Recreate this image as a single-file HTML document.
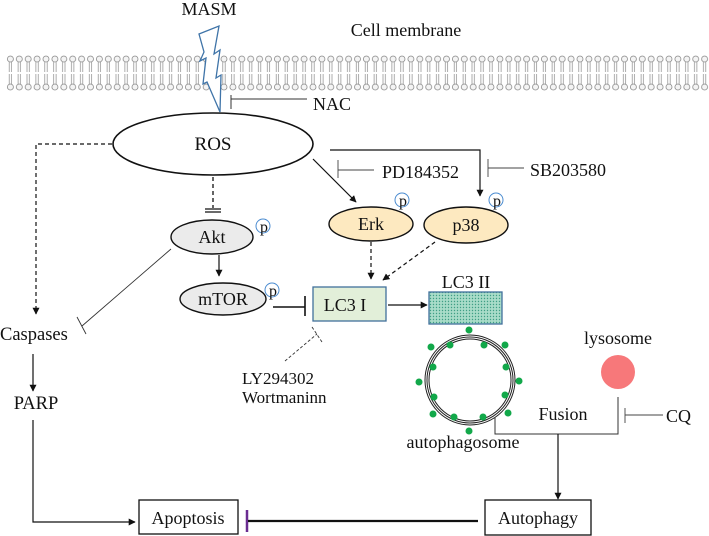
<!DOCTYPE html>
<html><head><meta charset="utf-8"><style>
html,body{margin:0;padding:0;background:#fff}
svg{display:block}
text{font-family:"Liberation Serif",serif;fill:#111}
</style></head><body>
<svg width="709" height="536" viewBox="0 0 709 536" xmlns="http://www.w3.org/2000/svg">
<defs>
<pattern id="mem" x="6" y="0" width="8.9" height="100" patternUnits="userSpaceOnUse">
<circle cx="4.4" cy="59" r="3" fill="#f4f4f4" stroke="#8a8a8a" stroke-width="0.8"/>
<circle cx="4.4" cy="87" r="3" fill="#f4f4f4" stroke="#8a8a8a" stroke-width="0.8"/>
<path d="M3.2 62V72M5.6 62V72M3.2 74V84M5.6 74V84" stroke="#8a8a8a" stroke-width="0.7"/>
</pattern>
<pattern id="dots" width="3" height="3" patternUnits="userSpaceOnUse">
<rect width="3" height="3" fill="#a9dcc9"/>
<circle cx="1.5" cy="1.5" r="0.7" fill="#3f9f85"/>
</pattern>
<marker id="ah" viewBox="0 0 10 10" refX="9" refY="5" markerWidth="7" markerHeight="7" orient="auto-start-reverse" markerUnits="userSpaceOnUse"><path d="M0 0L10 5L0 10z" fill="#111"/></marker>
</defs>

<rect x="6" y="52" width="703" height="40" fill="url(#mem)"/>
<text x="209" y="15" font-size="18" text-anchor="middle">MASM</text>
<text x="406" y="36" font-size="18" text-anchor="middle">Cell membrane</text>
<polygon points="199,34 219,26 214,54 220,50 216,78 221,75 220,112 207,82 203,84 206,58 200,61 204,52" fill="#fff" stroke="#3f74a8" stroke-width="1.3"/>

<path d="M231 95V109M231 99H307" stroke="#333" stroke-width="1"/>
<text x="313" y="110" font-size="18">NAC</text>

<ellipse cx="213" cy="144" rx="100" ry="31" fill="#fff" stroke="#111" stroke-width="1.6"/>
<text x="213" y="150" font-size="19" text-anchor="middle">ROS</text>

<path d="M112 144H36V314" fill="none" stroke="#111" stroke-width="1.2" stroke-dasharray="4,3" marker-end="url(#ah)"/>
<text x="0" y="340" font-size="18.5">Caspases</text>
<path d="M33 354V391" stroke="#111" stroke-width="1.2" marker-end="url(#ah)"/>
<text x="36" y="409" font-size="18.5" text-anchor="middle">PARP</text>
<path d="M33 420V522H135" fill="none" stroke="#111" stroke-width="1.2" marker-end="url(#ah)"/>
<rect x="139" y="500" width="99" height="34" fill="#fff" stroke="#111" stroke-width="1.3"/>
<text x="188" y="524" font-size="18" text-anchor="middle">Apoptosis</text>
<path d="M247 510V532" stroke="#6a2c91" stroke-width="2.5"/>
<path d="M248 521H478" stroke="#111" stroke-width="2.2"/>
<rect x="485" y="500" width="106" height="35" fill="#fff" stroke="#111" stroke-width="1.3"/>
<text x="538" y="524" font-size="18" text-anchor="middle">Autophagy</text>

<path d="M213 177V208" stroke="#111" stroke-width="1.3" stroke-dasharray="4,3"/>
<path d="M205 209H221M205 212H221" stroke="#111" stroke-width="1.2"/>
<ellipse cx="212" cy="237" rx="41" ry="17" fill="#ebebeb" stroke="#111" stroke-width="1.4"/>
<text x="212" y="243" font-size="18" text-anchor="middle">Akt</text>
<circle cx="263" cy="226" r="7" fill="#fff" stroke="#4a8bd0" stroke-width="1"/>
<text x="264" y="232" font-size="16" text-anchor="middle">p</text>
<path d="M171 249L82 326M77 317L86 334" stroke="#333" stroke-width="0.9" fill="none"/>
<path d="M219 255V276" stroke="#111" stroke-width="1.2" marker-end="url(#ah)"/>
<ellipse cx="223" cy="299" rx="43" ry="16" fill="#ebebeb" stroke="#111" stroke-width="1.4"/>
<text x="223" y="305" font-size="18" text-anchor="middle">mTOR</text>
<circle cx="272" cy="290" r="7" fill="#fff" stroke="#4a8bd0" stroke-width="1"/>
<text x="273" y="296" font-size="16" text-anchor="middle">p</text>
<path d="M273 307H305M305 296V316" stroke="#111" stroke-width="1.6"/>

<rect x="313" y="287" width="73" height="34" fill="#e2efd9" stroke="#41719c" stroke-width="1.3"/>
<text x="345" y="311" font-size="18" text-anchor="middle">LC3 I</text>
<path d="M285 361L317 334" stroke="#333" stroke-width="0.9" stroke-dasharray="3,2"/>
<path d="M312 327L322 342" stroke="#333" stroke-width="0.9" stroke-dasharray="3,2"/>
<text x="242" y="384" font-size="17">LY294302</text>
<text x="242" y="403" font-size="17">Wortmaninn</text>
<path d="M388 305H427" stroke="#111" stroke-width="1.2" marker-end="url(#ah)"/>
<rect x="429" y="292" width="73" height="32" fill="url(#dots)" stroke="#41719c" stroke-width="1.3"/>
<text x="466" y="288" font-size="18" text-anchor="middle">LC3 II</text>

<path d="M313 159L356 202" stroke="#111" stroke-width="1.2" marker-end="url(#ah)"/>
<path d="M338 160V178M338 170H374" stroke="#444" stroke-width="0.9"/>
<text x="382" y="178" font-size="18">PD184352</text>
<path d="M330 150H480V196" fill="none" stroke="#111" stroke-width="1.2" marker-end="url(#ah)"/>
<path d="M488 159V177M488 168H524" stroke="#444" stroke-width="0.9"/>
<text x="530" y="176" font-size="18">SB203580</text>
<ellipse cx="371" cy="224" rx="42" ry="17" fill="#fde9c0" stroke="#111" stroke-width="1.4"/>
<text x="371" y="230" font-size="18" text-anchor="middle">Erk</text>
<circle cx="402" cy="200" r="7" fill="#fff" stroke="#4a8bd0" stroke-width="1"/>
<text x="403" y="206" font-size="16" text-anchor="middle">p</text>
<ellipse cx="466" cy="225" rx="42" ry="18" fill="#fde9c0" stroke="#111" stroke-width="1.4"/>
<text x="466" y="231" font-size="18" text-anchor="middle">p38</text>
<circle cx="496" cy="200" r="7" fill="#fff" stroke="#4a8bd0" stroke-width="1"/>
<text x="497" y="206" font-size="16" text-anchor="middle">p</text>
<path d="M371 242V279" stroke="#111" stroke-width="1.2" stroke-dasharray="4,3" marker-end="url(#ah)"/>
<path d="M435 242L383 280" stroke="#111" stroke-width="1.2" stroke-dasharray="4,3" marker-end="url(#ah)"/>

<circle cx="470" cy="380" r="45" fill="none" stroke="#222" stroke-width="1"/>
<circle cx="470" cy="380" r="43" fill="none" stroke="#222" stroke-width="1"/>
<circle cx="470" cy="380" r="41" fill="none" stroke="#222" stroke-width="1"/>
<g fill="#12a84a">
<circle cx="469" cy="330" r="3.5"/><circle cx="431" cy="347" r="3.5"/><circle cx="450" cy="345" r="3.5"/>
<circle cx="484" cy="345" r="3.5"/><circle cx="505" cy="345" r="3.5"/><circle cx="433" cy="367" r="3.5"/>
<circle cx="506" cy="367" r="3.5"/><circle cx="419" cy="382" r="3.5"/><circle cx="519" cy="381" r="3.5"/>
<circle cx="434" cy="397" r="3.5"/><circle cx="505" cy="395" r="3.5"/><circle cx="433" cy="414" r="3.5"/>
<circle cx="454" cy="417" r="3.5"/><circle cx="483" cy="417" r="3.5"/><circle cx="508" cy="413" r="3.5"/>
<circle cx="469" cy="431" r="3.5"/>
</g>
<text x="463" y="448" font-size="18" text-anchor="middle">autophagosome</text>
<text x="618" y="344" font-size="18" text-anchor="middle">lysosome</text>
<circle cx="618" cy="372" r="17" fill="#f7787a"/>
<path d="M495 417V434H618V397" fill="none" stroke="#333" stroke-width="1"/>
<path d="M558 434V499" stroke="#111" stroke-width="1.2" marker-end="url(#ah)"/>
<text x="563" y="420" font-size="18" text-anchor="middle">Fusion</text>
<path d="M625 408V423M625 415H663" stroke="#444" stroke-width="0.9"/>
<text x="666" y="422" font-size="18">CQ</text>
</svg>
</body></html>
